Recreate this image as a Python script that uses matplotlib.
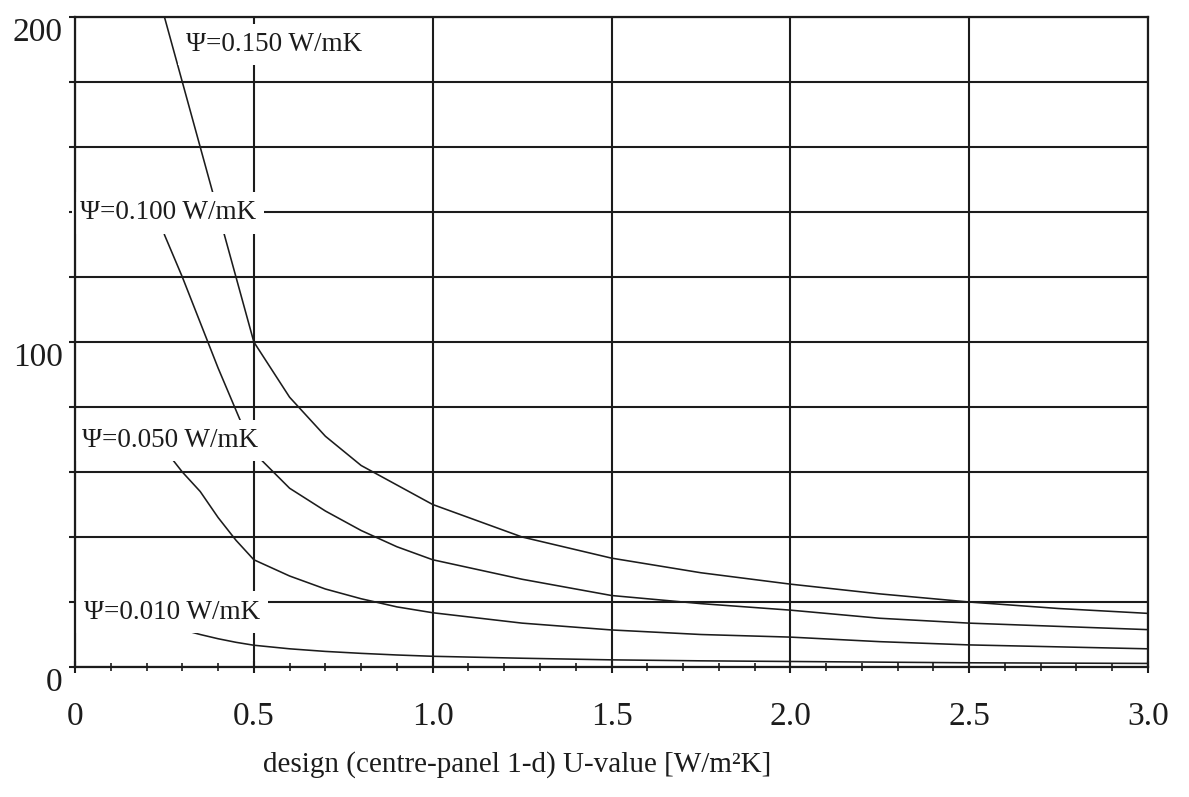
import matplotlib
matplotlib.use("Agg")
import matplotlib.pyplot as plt
import matplotlib.transforms as mtransforms
import numpy as np

# design U-value [W/m2K]
u = [0.25, 0.3, 0.35, 0.4, 0.45, 0.5, 0.6, 0.7, 0.8, 0.9, 1.0, 1.25, 1.5, 1.75, 2.0, 2.25, 2.5, 2.75, 3.0]

# curves, one per psi value
psi150 = [200, 180, 160, 140, 120, 100, 83, 71, 62, 56, 50, 40, 33.5, 29, 25.5, 22.5, 20, 18, 16.5]
psi100 = [133, 120, 106, 92, 79, 66, 55, 48, 42, 37, 33, 27, 22, 19.5, 17.5, 15, 13.5, 12.5, 11.5]
psi050 = [67, 60, 54, 46, 39, 33, 28, 24, 21, 18.5, 16.7, 13.5, 11.4, 10, 9.2, 7.8, 6.8, 6.2, 5.6]
psi010 = [13.3, 11.5, 10, 8.7, 7.6, 6.7, 5.6, 4.8, 4.2, 3.7, 3.3, 2.7, 2.2, 1.9, 1.7, 1.5, 1.3, 1.2, 1.1]

labels = ["\u03a8=0.150 W/mK", "\u03a8=0.100 W/mK", "\u03a8=0.050 W/mK", "\u03a8=0.010 W/mK"]
label_x = [0.31, 0.014, 0.02, 0.025]
label_y = [191.5, 139.7, 69.8, 16.9]

xticks = [0, 0.5, 1.0, 1.5, 2.0, 2.5, 3.0]
xticklabels = ["0", "0.5", "1.0", "1.5", "2.0", "2.5", "3.0"]

plt.rcParams["font.family"] = ["Liberation Serif", "DejaVu Serif"]
ink = "#1c1c1c"

fig = plt.figure(figsize=(11.89, 7.97), dpi=100)
ax = fig.add_axes([0.0631, 0.1631, 0.9024, 0.8156])

for y in [psi150, psi100, psi050, psi010]:
    ax.plot(u, y, color=ink, lw=1.15, zorder=2)

ax.set_xlim(0, 3.0)
ax.set_ylim(0, 200)

ax.set_xticks(xticks)
ax.set_xticklabels(xticklabels)
ax.set_xticks(np.arange(0, 3.01, 0.1), minor=True)
yt = np.arange(0, 201, 20)
ax.set_yticks(yt)
ax.set_yticklabels([str(v) if v % 100 == 0 else "" for v in yt])

ax.grid(True, which="major", color=ink, lw=1.5, zorder=1)
ax.set_axisbelow(True)
ax.tick_params(axis="x", which="major", direction="inout", length=8, width=1.5,
               color=ink, labelsize=24, pad=21, labelcolor=ink)
ax.tick_params(axis="x", which="minor", direction="inout", length=6, width=1.2, color=ink)
ax.tick_params(axis="y", which="major", direction="out", length=4, width=1.5,
               color=ink, labelsize=24, pad=5, labelcolor=ink)

# the scanned y labels sit a little below their gridlines
shift = mtransforms.ScaledTranslation(0, -9 / 72, fig.dpi_scale_trans)
for lab in ax.get_yticklabels():
    lab.set_transform(lab.get_transform() + shift)

for s in ax.spines.values():
    s.set_color(ink)
    s.set_linewidth(1.6)
    s.set_zorder(5)

for t, x, y in zip(labels, label_x, label_y):
    ax.text(x, y, t, fontsize=19.5, color=ink, ha="left", va="center", zorder=4,
            bbox=dict(boxstyle="square,pad=0.3", fc="white", ec="none"))

ax.set_xlabel("design (centre-panel 1-d) U-value [W/m\u00b2K]", fontsize=21, color=ink)
ax.xaxis.set_label_coords(0.412, -0.13)

fig.savefig("out.png", dpi=100)
